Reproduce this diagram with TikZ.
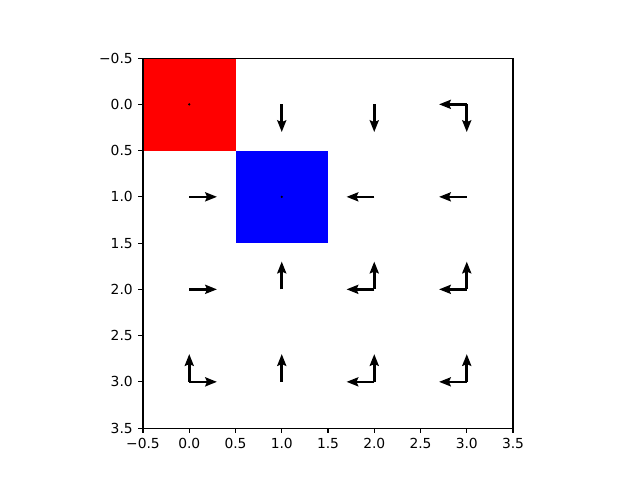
\documentclass[tikz,border=0pt]{standalone}
\usepackage{fontspec}
\setmainfont{DejaVu Sans}
\usetikzlibrary{arrows.meta}

\begin{document}
\begin{tikzpicture}[x=2.35cm,y=-2.35cm,
    every node/.style={font=\fontsize{10}{12}\selectfont, inner sep=0pt},
    pol/.style={line width=1.9pt,-{Stealth[length=8.5pt,width=6.5pt,inset=1.3pt]}},
    tick/.style={line width=0.8pt}]
  \useasboundingbox (-2.046,-1.128) rectangle (4.873,4.06);

  % cells
  \fill[red] (-0.5,-0.5) rectangle (0.5,0.5);
  \fill[blue] (0.5,0.5) rectangle (1.5,1.5);

  % cell centres
  \coordinate (c00) at (0,0); \coordinate (c10) at (1,0);
  \coordinate (c20) at (2,0); \coordinate (c30) at (3,0);
  \coordinate (c01) at (0,1); \coordinate (c11) at (1,1);
  \coordinate (c21) at (2,1); \coordinate (c31) at (3,1);
  \coordinate (c02) at (0,2); \coordinate (c12) at (1,2);
  \coordinate (c22) at (2,2); \coordinate (c32) at (3,2);
  \coordinate (c03) at (0,3); \coordinate (c13) at (1,3);
  \coordinate (c23) at (2,3); \coordinate (c33) at (3,3);

  \fill (c00) circle (0.9pt);
  \fill (c11) circle (0.9pt);

  % policy arrows
  \draw[pol] (c10) -- ++(0,0.3);
  \draw[pol] (c20) -- ++(0,0.3);
  \draw[pol] (c30) -- ++(0,0.3);
  \draw[pol] (c30) -- ++(-0.3,0);
  \draw[pol] (c01) -- ++(0.3,0);
  \draw[pol] (c21) -- ++(-0.3,0);
  \draw[pol] (c31) -- ++(-0.3,0);
  \draw[pol] (c02) -- ++(0.3,0);
  \draw[pol] (c12) -- ++(0,-0.3);
  \draw[pol] (c22) -- ++(0,-0.3);
  \draw[pol] (c22) -- ++(-0.3,0);
  \draw[pol] (c32) -- ++(0,-0.3);
  \draw[pol] (c32) -- ++(-0.3,0);
  \draw[pol] (c03) -- ++(0,-0.3);
  \draw[pol] (c03) -- ++(0.3,0);
  \draw[pol] (c13) -- ++(0,-0.3);
  \draw[pol] (c23) -- ++(0,-0.3);
  \draw[pol] (c23) -- ++(-0.3,0);
  \draw[pol] (c33) -- ++(0,-0.3);
  \draw[pol] (c33) -- ++(-0.3,0);

  % axes
  \draw[tick] (-0.5,-0.5) rectangle (3.5,3.5);
  \foreach \v/\t/\n in {-0.5/−0.5/a,0/0.0/b,0.5/0.5/c,1/1.0/d,1.5/1.5/e,2/2.0/f,2.5/2.5/g,3/3.0/h,3.5/3.5/i} {
    \draw[tick] (\v,3.5) -- ++(0,-3.5bp) node[below=3.5bp] (xl\n) {\t};
    \draw[tick] (-0.5,\v) -- ++(-3.5bp,0) node[left=3.5bp] (yl\n) {\t};
  }
\end{tikzpicture}
\end{document}
